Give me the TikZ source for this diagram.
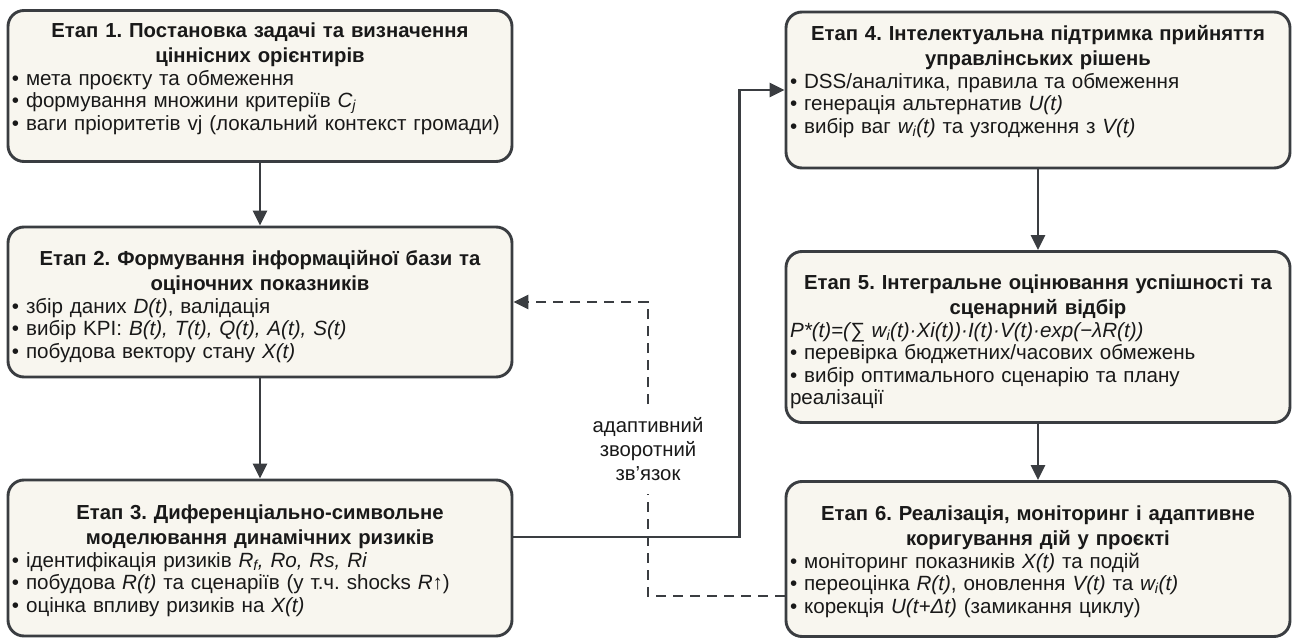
\documentclass[tikz,border=0pt]{standalone}
\usepackage{fontspec}
\setmainfont{Liberation Sans}
\usetikzlibrary{arrows.meta,positioning}
\definecolor{stagefill}{RGB}{248,246,239}
\definecolor{stageline}{RGB}{58,61,65}
\definecolor{stagetext}{RGB}{25,25,25}
\frenchspacing
\tikzset{
    % Stage boxes (six stages of the cycle)
    stagebox/.style={
        rectangle, rounded corners=16pt, draw=stageline, fill=stagefill,
        line width=2.9pt, minimum width=504pt, text width=496pt,
        inner xsep=4pt, align=left, text=stagetext,
        font=\fontsize{20.6}{22.5}\selectfont
    },
    % Connectors
    flowarrow/.style={-{Triangle[length=15pt,width=14pt]}, line width=2.9pt, stageline},
    feedbackline/.style={line width=2.9pt, stageline, dash pattern=on 10pt off 7pt},
    feedbackarrow/.style={feedbackline, -{Triangle[length=15pt,width=14pt]}},
    feedbacklabel/.style={align=center, fill=white, inner xsep=2pt, inner ysep=13pt,
        font=\fontsize{20.3}{24}\selectfont, text=stagetext},
}
\newcommand{\stagetitle}[1]{{\centering\bfseries\fontsize{20.3}{25}\selectfont #1\par}}
\newcommand{\ivar}[1]{\textit{#1}}
\newcommand{\toppad}[1]{\rule{0pt}{#1}}
\newcommand{\bottompad}[1]{\rule[-#1]{0pt}{#1}}
\begin{document}
\begin{tikzpicture}[x=1pt,y=-1pt]
  \useasboundingbox (0,0) rectangle (1298,639);
  % left column
  \node[stagebox, minimum height=151pt] (s1) at (260,86) {\stagetitle{Етап 1. Постановка задачі та визначення\\ціннісних орієнтирів}
    • мета проєкту та обмеження\\
    • формування множини критеріїв \ivar{C\textsubscript{j}}\\
    • ваги пріоритетів vj (локальний контекст громади)\bottompad{19pt}};
  \node[stagebox, minimum height=150pt] (s2) at (260,302) {\stagetitle{\toppad{24pt}Етап 2. Формування інформаційної бази та\\оціночних показників}
    • збір даних \ivar{D(t)}, валідація\\
    • вибір KPI: \ivar{B(t), T(t), Q(t), A(t), S(t)}\\
    • побудова вектору стану \ivar{X(t)}};
  \node[stagebox, minimum height=156pt] (s3) at (260,558) {\stagetitle{\toppad{20pt}Етап 3. Диференціально-символьне\\моделювання динамічних ризиків}
    • ідентифікація ризиків \ivar{R\textsubscript{f}, Ro, Rs, Ri}\\
    • побудова \ivar{R(t)} та сценаріїв (у т.ч. shocks \ivar{R}↑)\\
    • оцінка впливу ризиків на \ivar{X(t)}};
  % right column
  \node[stagebox, minimum height=156pt] (s4) at (1038,90) {\stagetitle{Етап 4. Інтелектуальна підтримка прийняття\\управлінських рішень}
    • DSS/аналітика, правила та обмеження\\
    • генерація альтернатив \ivar{U(t)}\\
    • вибір ваг \ivar{w\textsubscript{i}(t)} та узгодження з \ivar{V(t)}\bottompad{21pt}};
  \node[stagebox, minimum height=171pt] (s5) at (1038,337) {\stagetitle{\toppad{25pt}Етап 5. Інтегральне оцінювання успішності та\\сценарний відбір}
    \ivar{P*(t)=(∑ w\textsubscript{i}(t)·Xi(t))·I(t)·V(t)·exp(−λR(t))}\\
    • перевірка бюджетних/часових обмежень\\
    • вибір оптимального сценарію та плану\\
    реалізації};
  \node[stagebox, minimum height=155pt] (s6) at (1038,559) {\stagetitle{\toppad{20pt}Етап 6. Реалізація, моніторинг і адаптивне\\коригування дій у проєкті}
    • моніторинг показників \ivar{X(t)} та подій\\
    • переоцінка \ivar{R(t)}, оновлення \ivar{V(t)} та \ivar{w\textsubscript{i}(t)}\\
    • корекція \ivar{U(t+Δt)} (замикання циклу)};
  % feedback label
  \node[feedbacklabel] (fb) at (648,449) {адаптивний\\зворотний\\зв’язок};
  % main flow
  \draw[flowarrow] (s1) -- (s2);
  \draw[flowarrow] (s2) -- (s3);
  \draw[flowarrow] ([yshift=21pt]s3.east) -| ([xshift=-45pt]s4.west) -- (s4.west);
  \draw[flowarrow] (s4) -- (s5);
  \draw[flowarrow] (s5) -- (s6);
  % adaptive feedback loop
  \draw[feedbackline] ([yshift=-37pt]s6.west) -| (fb.south);
  \draw[feedbackarrow] (fb.north) |- (s2.east);
\end{tikzpicture}
\end{document}
